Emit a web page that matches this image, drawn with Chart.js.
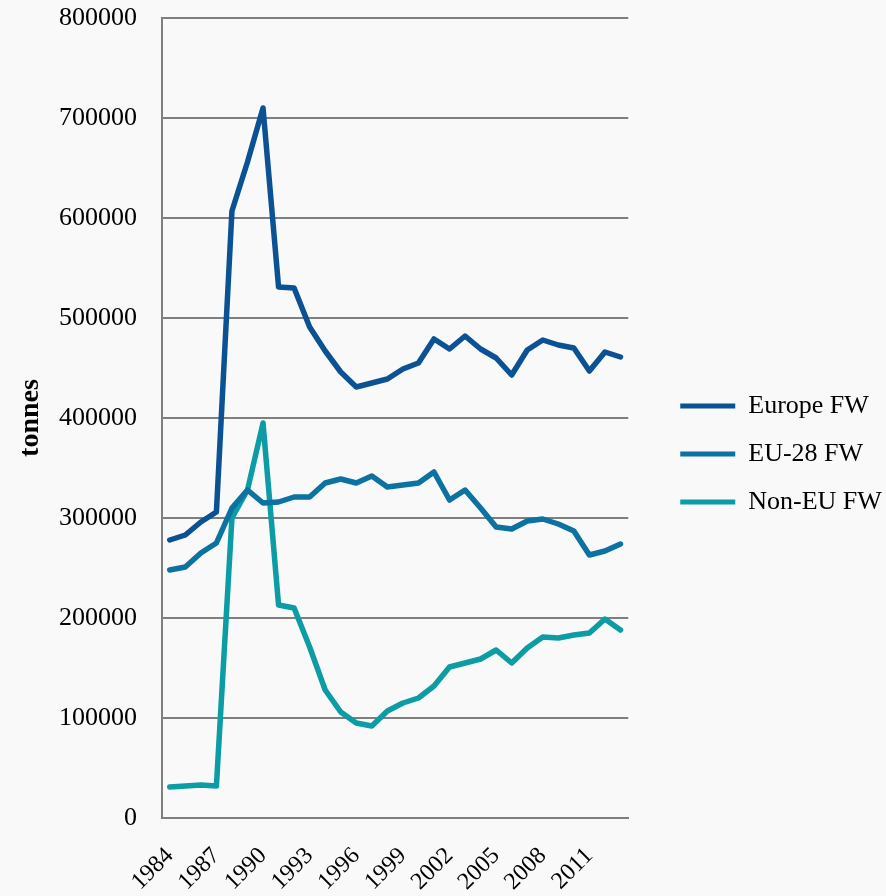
<!DOCTYPE html>
<html>
<head>
<meta charset="utf-8">
<script src="https://cdn.jsdelivr.net/npm/chart.js@4"></script>
<style>
  html, body { margin: 0; padding: 0; background: #f9f9f9; }
  #wrap { width: 886px; height: 896px; }
</style>
</head>
<body>
<div id="wrap"><canvas id="chart" width="886" height="896"></canvas></div>
<script>
const years = ['1984','1985','1986','1987','1988','1989','1990','1991','1992','1993',
               '1994','1995','1996','1997','1998','1999','2000','2001','2002','2003',
               '2004','2005','2006','2007','2008','2009','2010','2011','2012','2013'];

const europeFW = [278000, 283000, 296000, 306000, 607000, 656000, 710000, 531000, 530000, 491000,
                  467000, 446000, 431000, 435000, 439000, 449000, 455000, 479000, 469000, 482000,
                  469000, 460000, 443000, 468000, 478000, 473000, 470000, 447000, 466000, 461000];

const eu28FW = [248000, 251000, 265000, 275000, 310000, 328000, 315000, 316000, 321000, 321000,
                335000, 339000, 335000, 342000, 331000, 333000, 335000, 346000, 318000, 328000,
                310000, 291000, 289000, 297000, 299000, 294000, 287000, 263000, 267000, 274000];

const nonEuFW = [31000, 32000, 33000, 32000, 300000, 328000, 395000, 213000, 210000, 171000,
                 128000, 106000, 95000, 92000, 107000, 115000, 120000, 132000, 151000, 155000,
                 159000, 168000, 155000, 170000, 181000, 180000, 183000, 185000, 199000, 188000];

const serif = "'Liberation Serif', 'DejaVu Serif', serif";
const gridGrey = '#7f7f7f';

function series(label, data, color) {
    return {
        label: label,
        data: data,
        borderColor: color,
        backgroundColor: color,
        borderWidth: 5.5,
        borderCapStyle: 'round',
        borderJoinStyle: 'round',
        pointRadius: 0,
        tension: 0,
        fill: false,
    };
}

// push the legend a bit further away from the plot, like the original
const legendShift = {
    id: 'legendShift',
    afterLayout(chart) {
        const lg = chart.legend;
        lg.left += 30;
        lg.right = chart.width;
        lg.width = lg.right - lg.left;
        lg.top += 6;
        lg.bottom += 6;
    }
};

new Chart(document.getElementById('chart'), {
    type: 'line',
    data: {
        labels: years,
        datasets: [
            series('Europe FW', europeFW, '#0b5295'),
            series('EU-28 FW', eu28FW, '#0b72a2'),
            series('Non-EU FW', nonEuFW, '#0b9ca4'),
        ]
    },
    plugins: [legendShift],
    options: {
        responsive: false,
        animation: false,
        layout: {
            padding: { top: 0, left: 14, right: 53, bottom: 0 }
        },
        plugins: {
            legend: {
                position: 'right',
                labels: {
                    boxWidth: 55,
                    boxHeight: 5,
                    padding: 22,
                    color: '#000',
                    font: { family: serif, size: 26 },
                    generateLabels: function (chart) {
                        const items = Chart.defaults.plugins.legend.labels.generateLabels(chart);
                        items.forEach(function (item) { item.lineWidth = 0; });
                        return items;
                    }
                }
            },
            tooltip: { enabled: false },
        },
        scales: {
            x: {
                offset: true,
                grid: { display: false },
                border: { display: true, color: gridGrey, width: 2 },
                ticks: {
                    autoSkip: false,
                    maxRotation: 45,
                    minRotation: 45,
                    padding: 16,
                    color: '#000',
                    font: { family: serif, size: 24 },
                    callback: function (value, index) {
                        return index % 3 === 0 ? years[index] : null;
                    }
                },
                afterFit: function (scale) {
                    scale.height = 78;
                }
            },
            y: {
                min: 0,
                max: 800000,
                grid: { color: gridGrey, lineWidth: 2, drawTicks: false },
                border: { display: true, color: gridGrey, width: 2 },
                ticks: {
                    stepSize: 100000,
                    padding: 25,
                    color: '#000',
                    font: { family: serif, size: 26 },
                    callback: function (value) { return String(value); }
                },
                title: {
                    display: true,
                    text: 'tonnes',
                    color: '#000',
                    font: { family: serif, size: 28, weight: 'bold' },
                    padding: { top: 0, bottom: 14 },
                },
                afterFit: function (scale) {
                    scale.width = 148;
                    scale.paddingTop = 18;
                    scale.paddingBottom = 0;
                }
            }
        }
    },
});
</script>
</body>
</html>
